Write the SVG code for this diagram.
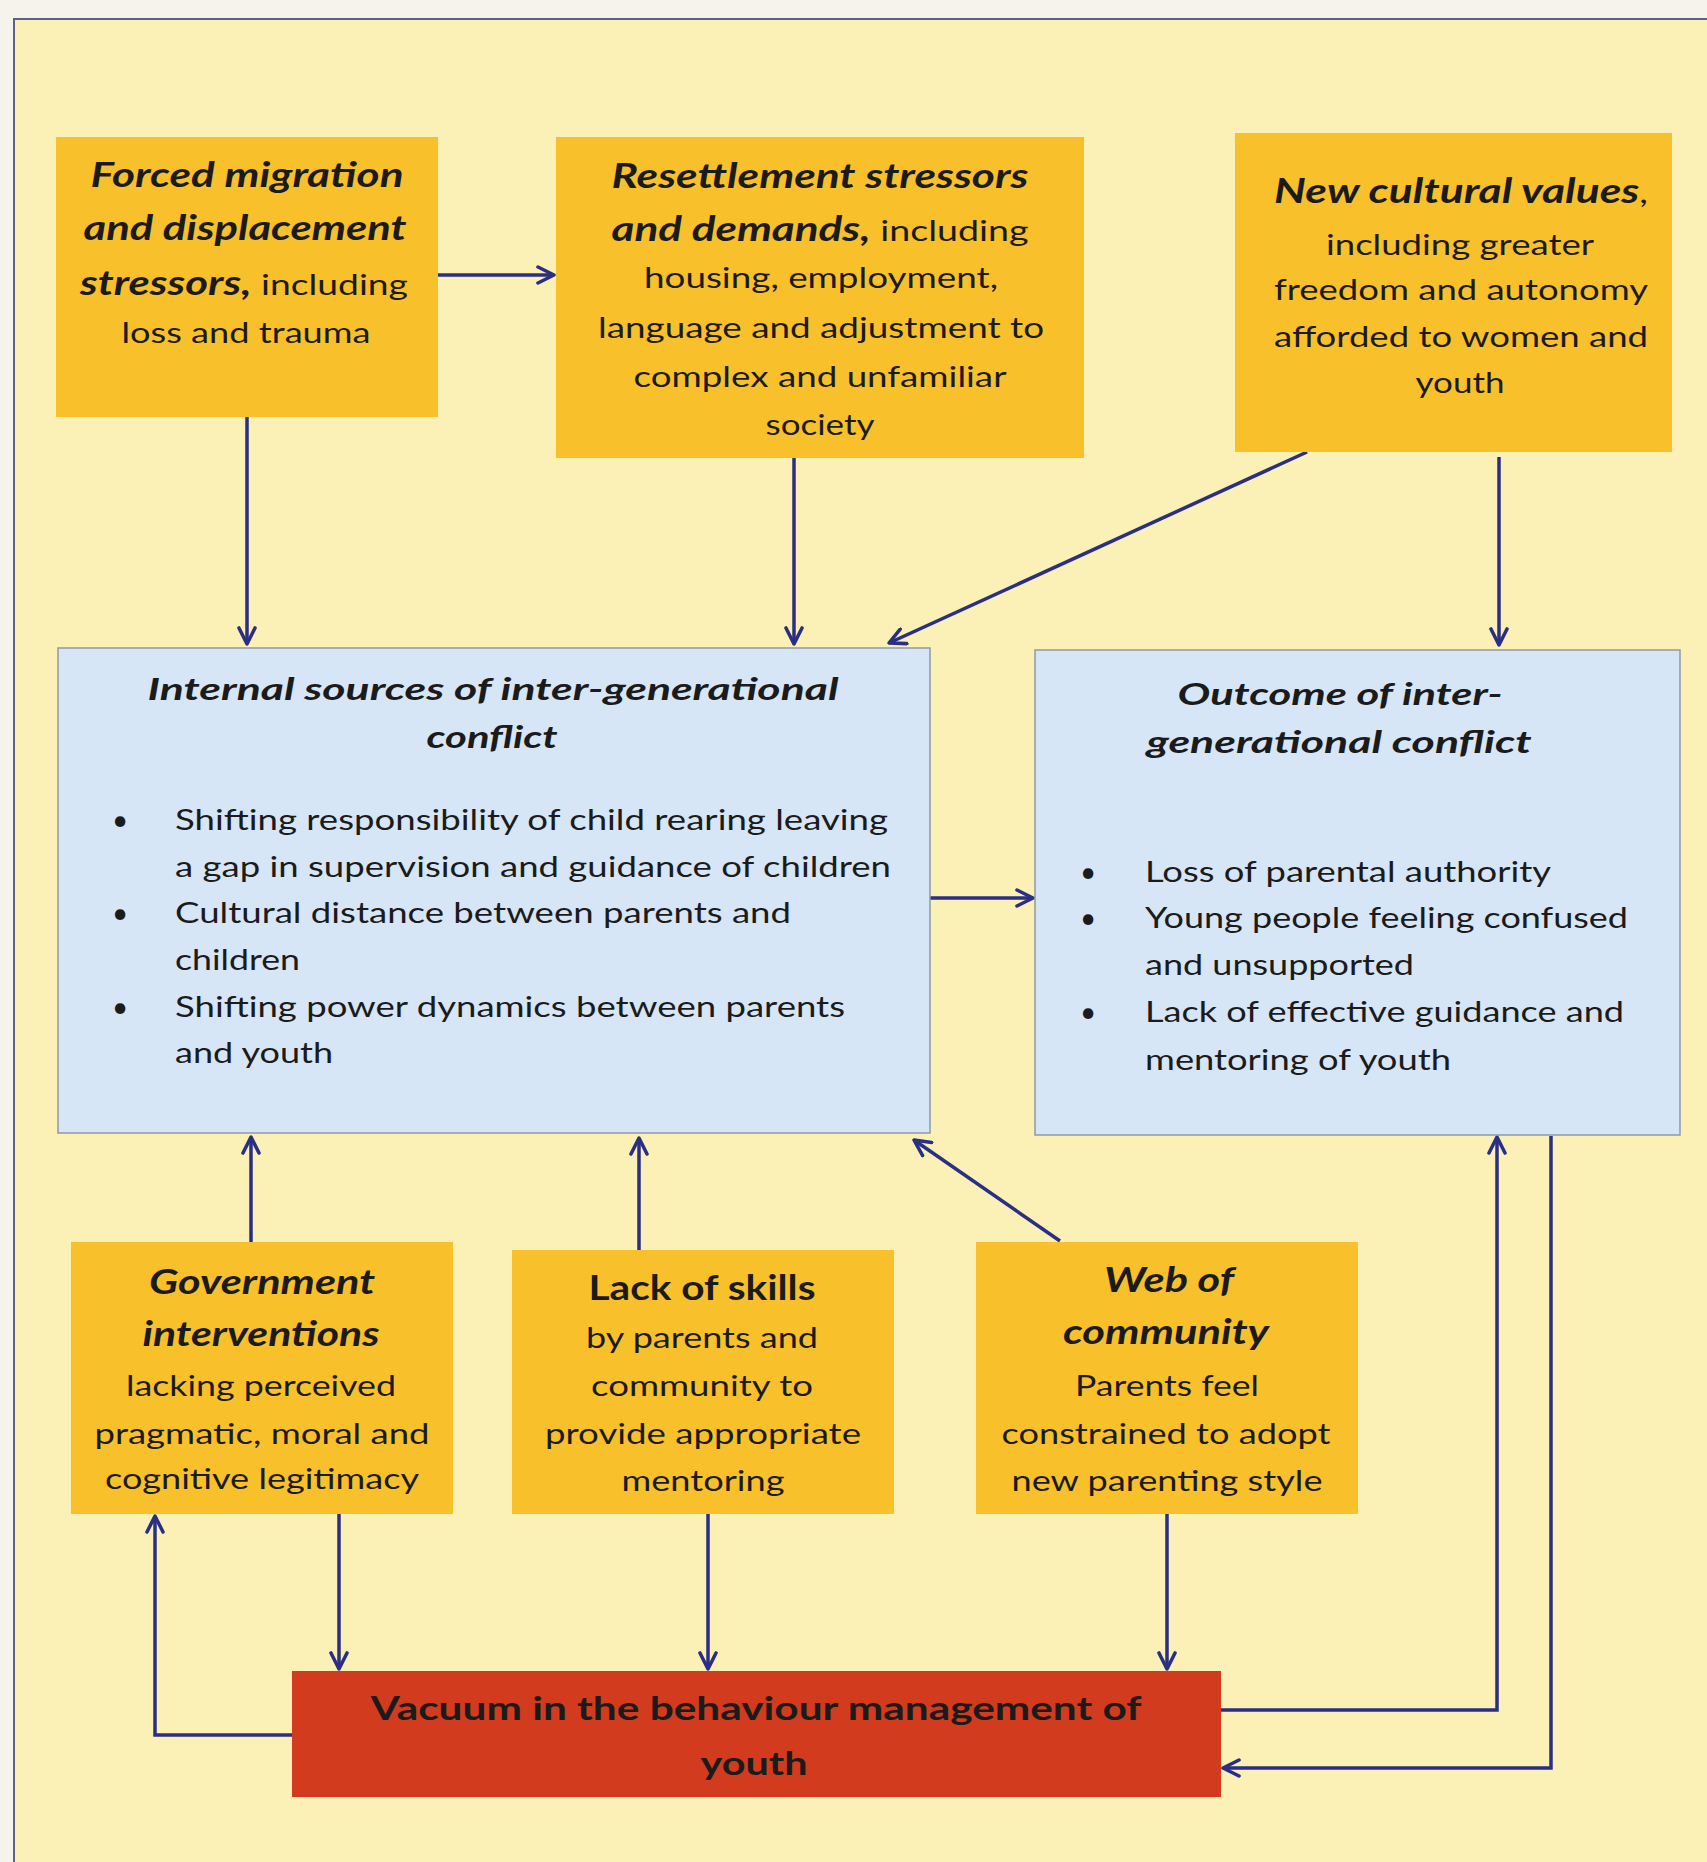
<svg xmlns="http://www.w3.org/2000/svg" width="1707" height="1862" viewBox="0 0 1707 1862">
<defs>
<style>
.y{fill:#f8c12c}
.b{fill:#d6e6f6;stroke:#8e99a8;stroke-width:1.5}
.r{fill:#d23b1e}
text{font-family:Lato,"Open Sans","Liberation Sans",sans-serif;fill:#1b1b1b}
.c{text-anchor:middle}
.t{font-size:34px;font-weight:bold;font-style:italic}
.tb{font-size:34px;font-weight:bold}
.n{font-size:29px}
.bt{font-size:30px;font-weight:bold;font-style:italic}
.bn{font-size:28px}
.v{font-size:32px;font-weight:bold}
.bi{font-weight:bold;font-style:italic}
.cn{fill:none;stroke:#2a2f85;stroke-width:3.5}
</style>
<marker id="ah" viewBox="0 0 12 12" refX="11" refY="6" markerWidth="5.5" markerHeight="5.5" orient="auto" markerUnits="strokeWidth">
<path d="M1,1 L11,6 L1,11" fill="none" stroke="#2a2f85" stroke-width="2.2" stroke-linejoin="round" stroke-linecap="round"/>
</marker>
</defs>
<rect x="0" y="0" width="1707" height="1862" fill="#f5f3ec"/>
<rect x="14" y="19" width="1693" height="1843" fill="#fbf0b6"/>
<path d="M14,1862 L14,19 L1707,19" fill="none" stroke="#5d6088" stroke-width="2"/>

<g id="connectors" class="cn">
<path d="M438,275 L554,275" marker-end="url(#ah)"/>
<path d="M247,417 L247,644" marker-end="url(#ah)"/>
<path d="M794,458 L794,644" marker-end="url(#ah)"/>
<path d="M1307,452 L889,643" marker-end="url(#ah)"/>
<path d="M1499,457 L1499,645" marker-end="url(#ah)"/>
<path d="M930,898 L1033,898" marker-end="url(#ah)"/>
<path d="M251,1242 L251,1137" marker-end="url(#ah)"/>
<path d="M639,1250 L639,1138" marker-end="url(#ah)"/>
<path d="M1060,1241 L914,1140" marker-end="url(#ah)"/>
<path d="M339,1514 L339,1669" marker-end="url(#ah)"/>
<path d="M708,1514 L708,1669" marker-end="url(#ah)"/>
<path d="M1167,1514 L1167,1669" marker-end="url(#ah)"/>
<path d="M292,1735 L155,1735 L155,1516" marker-end="url(#ah)"/>
<path d="M1221,1710 L1497,1710 L1497,1137" marker-end="url(#ah)"/>
<path d="M1551,1136 L1551,1768 L1223,1768" marker-end="url(#ah)"/>
</g>

<g id="forced-migration">
<rect class="y" x="56" y="137" width="382" height="280"/>
<text class="c t" x="247" y="187" textLength="313" lengthAdjust="spacingAndGlyphs">Forced migration</text>
<text class="c t" x="245" y="240" textLength="323" lengthAdjust="spacingAndGlyphs">and displacement</text>
<text class="c n" x="244" y="295" textLength="328" lengthAdjust="spacingAndGlyphs"><tspan class="bi" font-size="34">stressors,</tspan> including</text>
<text class="c n" x="246" y="343" textLength="249" lengthAdjust="spacingAndGlyphs">loss and trauma</text>
</g>

<g id="resettlement">
<rect class="y" x="556" y="137" width="528" height="321"/>
<text class="c t" x="820" y="188" textLength="417" lengthAdjust="spacingAndGlyphs">Resettlement stressors</text>
<text class="c n" x="820" y="241" textLength="417" lengthAdjust="spacingAndGlyphs"><tspan class="bi" font-size="34">and demands,</tspan> including</text>
<text class="c n" x="821" y="288" textLength="354" lengthAdjust="spacingAndGlyphs">housing, employment,</text>
<text class="c n" x="821" y="338" textLength="446" lengthAdjust="spacingAndGlyphs">language and adjustment to</text>
<text class="c n" x="820" y="387" textLength="373" lengthAdjust="spacingAndGlyphs">complex and unfamiliar</text>
<text class="c n" x="820" y="435" textLength="109" lengthAdjust="spacingAndGlyphs">society</text>
</g>

<g id="new-cultural-values">
<rect class="y" x="1235" y="133" width="437" height="319"/>
<text class="c n" x="1461" y="203" textLength="374" lengthAdjust="spacingAndGlyphs"><tspan class="bi" font-size="34">New cultural values</tspan>,</text>
<text class="c n" x="1460" y="255" textLength="268" lengthAdjust="spacingAndGlyphs">including greater</text>
<text class="c n" x="1461" y="300" textLength="374" lengthAdjust="spacingAndGlyphs">freedom and autonomy</text>
<text class="c n" x="1461" y="347" textLength="374" lengthAdjust="spacingAndGlyphs">afforded to women and</text>
<text class="c n" x="1460" y="393" textLength="89" lengthAdjust="spacingAndGlyphs">youth</text>
</g>

<g id="internal-sources">
<rect class="b" x="58" y="648" width="872" height="485"/>
<text class="c bt" x="493" y="700" textLength="691" lengthAdjust="spacingAndGlyphs">Internal sources of inter-generational</text>
<text class="c bt" x="492" y="748" textLength="131" lengthAdjust="spacingAndGlyphs">conflict</text>
<text class="bn" x="112" y="830">•</text>
<text class="bn" x="175" y="830" textLength="713" lengthAdjust="spacingAndGlyphs">Shifting responsibility of child rearing leaving</text>
<text class="bn" x="175" y="877" textLength="716" lengthAdjust="spacingAndGlyphs">a gap in supervision  and guidance of children</text>
<text class="bn" x="112" y="923">•</text>
<text class="bn" x="175" y="923" textLength="616" lengthAdjust="spacingAndGlyphs">Cultural distance between parents and</text>
<text class="bn" x="175" y="970" textLength="125" lengthAdjust="spacingAndGlyphs">children</text>
<text class="bn" x="112" y="1017">•</text>
<text class="bn" x="175" y="1017" textLength="670" lengthAdjust="spacingAndGlyphs">Shifting power dynamics between parents</text>
<text class="bn" x="175" y="1063" textLength="158" lengthAdjust="spacingAndGlyphs">and youth</text>
</g>

<g id="outcome">
<rect class="b" x="1035" y="650" width="645" height="485"/>
<text class="c bt" x="1340" y="705" textLength="325" lengthAdjust="spacingAndGlyphs">Outcome of inter-</text>
<text class="c bt" x="1339" y="753" textLength="385" lengthAdjust="spacingAndGlyphs">generational  conflict</text>
<text class="bn" x="1080" y="882">•</text>
<text class="bn" x="1145" y="882" textLength="406" lengthAdjust="spacingAndGlyphs">Loss of parental authority</text>
<text class="bn" x="1080" y="928">•</text>
<text class="bn" x="1145" y="928" textLength="483" lengthAdjust="spacingAndGlyphs">Young people feeling confused</text>
<text class="bn" x="1145" y="975" textLength="269" lengthAdjust="spacingAndGlyphs">and unsupported</text>
<text class="bn" x="1080" y="1022">•</text>
<text class="bn" x="1145" y="1022" textLength="479" lengthAdjust="spacingAndGlyphs">Lack of effective guidance and</text>
<text class="bn" x="1145" y="1070" textLength="306" lengthAdjust="spacingAndGlyphs">mentoring of youth</text>
</g>

<g id="government">
<rect class="y" x="71" y="1242" width="382" height="272"/>
<text class="c t" x="262" y="1294" textLength="226" lengthAdjust="spacingAndGlyphs">Government</text>
<text class="c t" x="261" y="1346" textLength="237" lengthAdjust="spacingAndGlyphs">interventions</text>
<text class="c n" x="261" y="1396" textLength="270" lengthAdjust="spacingAndGlyphs">lacking perceived</text>
<text class="c n" x="262" y="1444" textLength="335" lengthAdjust="spacingAndGlyphs">pragmatic, moral and</text>
<text class="c n" x="262" y="1489" textLength="314" lengthAdjust="spacingAndGlyphs">cognitive legitimacy</text>
</g>

<g id="lack-of-skills">
<rect class="y" x="512" y="1250" width="382" height="264"/>
<text class="c tb" x="702" y="1300" textLength="227" lengthAdjust="spacingAndGlyphs">Lack of skills</text>
<text class="c n" x="702" y="1348" textLength="232" lengthAdjust="spacingAndGlyphs">by parents and</text>
<text class="c n" x="702" y="1396" textLength="222" lengthAdjust="spacingAndGlyphs">community to</text>
<text class="c n" x="703" y="1444" textLength="316" lengthAdjust="spacingAndGlyphs">provide appropriate</text>
<text class="c n" x="703" y="1491" textLength="163" lengthAdjust="spacingAndGlyphs">mentoring</text>
</g>

<g id="web-of-community">
<rect class="y" x="976" y="1242" width="382" height="272"/>
<text class="c t" x="1169" y="1292" textLength="130" lengthAdjust="spacingAndGlyphs">Web of</text>
<text class="c t" x="1166" y="1344" textLength="206" lengthAdjust="spacingAndGlyphs">community</text>
<text class="c n" x="1167" y="1396" textLength="184" lengthAdjust="spacingAndGlyphs">Parents feel</text>
<text class="c n" x="1166" y="1444" textLength="329" lengthAdjust="spacingAndGlyphs">constrained to adopt</text>
<text class="c n" x="1167" y="1491" textLength="311" lengthAdjust="spacingAndGlyphs">new parenting style</text>
</g>

<g id="vacuum">
<rect class="r" x="292" y="1671" width="929" height="126"/>
<text class="c v" x="756" y="1720" textLength="771" lengthAdjust="spacingAndGlyphs">Vacuum in the behaviour management of</text>
<text class="c v" x="754" y="1775" textLength="107" lengthAdjust="spacingAndGlyphs">youth</text>
</g>
</svg>
